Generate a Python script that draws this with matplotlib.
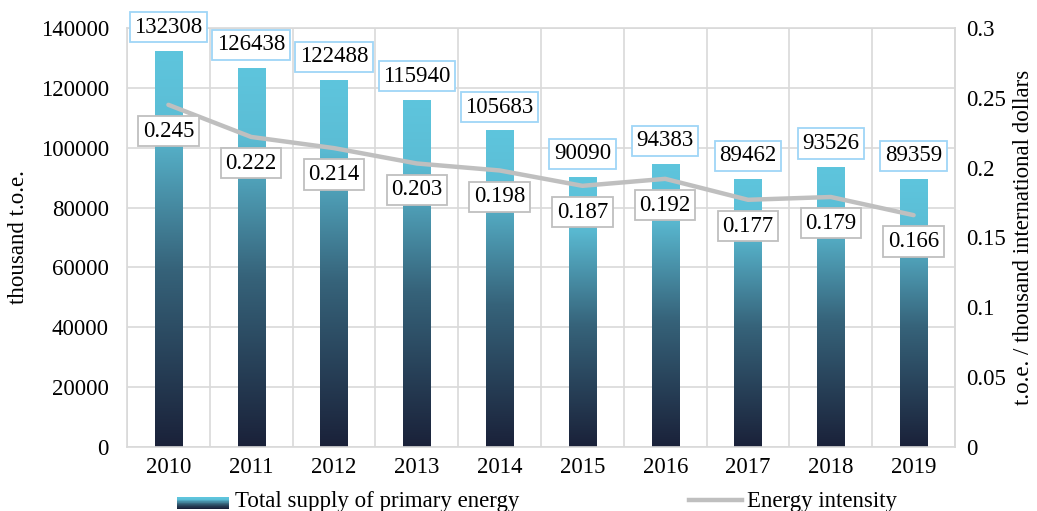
import numpy as np
import matplotlib
matplotlib.use("Agg")
import matplotlib.pyplot as plt
from matplotlib.colors import LinearSegmentedColormap
from matplotlib.patches import Rectangle
from matplotlib.lines import Line2D
from matplotlib.legend_handler import HandlerBase

plt.rcParams['font.family'] = ['Liberation Serif', 'DejaVu Serif']

# --- данные ---
YEARS = ['2010', '2011', '2012', '2013', '2014', '2015', '2016', '2017', '2018', '2019']
SUPPLY = [132308, 126438, 122488, 115940, 105683, 90090, 94383, 89462, 93526, 89359]
INTENSITY = [0.245, 0.222, 0.214, 0.203, 0.198, 0.187, 0.192, 0.177, 0.179, 0.166]

# градиент столбца: снизу тёмно-синий, сверху голубой
CMAP = LinearSegmentedColormap.from_list(
    "bar_grad", [(0.0, "#1a2139"), (0.45, "#36637a"), (0.82, "#5bbdd5"), (1.0, "#5ec5dd")])
LINE_COLOR = "#bfbfbf"
GRID = "#d9d9d9"
FS = 16.5


class GradientHandler(HandlerBase):
    # рисуем значок легенды полосками, чтобы получился градиент
    def create_artists(self, legend, orig, xd, yd, width, height, fontsize, trans):
        n = 20
        arts = []
        h = height * 0.9
        y0 = yd + (height - h) / 2
        for i in range(n):
            r = Rectangle((xd, y0 + h * i / n), width, h / n + 0.3,
                          facecolor=CMAP(i / (n - 1)), edgecolor='none', transform=trans)
            arts.append(r)
        return arts


fig = plt.figure(figsize=(10.37, 5.11), dpi=100)
ax1 = fig.add_axes([127 / 1037, 1 - 447 / 511, (955 - 127) / 1037, (447 - 28) / 511])
ax2 = ax1.twinx()

x = np.arange(len(YEARS))
w = 0.33
grad = np.linspace(0, 1, 256).reshape(-1, 1)
for xi, v in zip(x, SUPPLY):
    ax1.imshow(grad, cmap=CMAP, origin='lower', aspect='auto',
               extent=[xi - w / 2, xi + w / 2, 0, v], zorder=2)

ax1.set_xlim(-0.5, len(YEARS) - 0.5)
ax1.set_ylim(0, 140000)
ax1.set_yticks(np.arange(0, 140001, 20000))
ax1.set_xticks(x)
ax1.set_xticklabels(YEARS)
ax1.set_xticks(np.arange(-0.5, len(YEARS), 1), minor=True)
ax1.grid(True, axis='y', color=GRID, lw=1.2, zorder=0)
ax1.grid(True, axis='x', which='minor', color=GRID, lw=1.2, zorder=0)
ax1.set_axisbelow(True)
ax1.tick_params(axis='y', which='both', length=0, labelsize=FS, pad=13)
ax1.tick_params(axis='x', which='both', length=0, labelsize=FS, pad=7)
ax1.set_ylabel("thousand t.o.e.", fontsize=FS, va='center')
ax1.yaxis.set_label_coords((19 - 127) / 828, 0.5)

ax2.plot(x, INTENSITY, color=LINE_COLOR, lw=3.2, solid_capstyle='round', zorder=3)
# подписи столбцов рисуем на ax2, чтобы они были поверх линии и рамки
for xi, v in zip(x, SUPPLY):
    ax2.annotate(str(v), (xi, v), xycoords=ax1.transData, xytext=(0, 17),
                 textcoords='offset points', ha='center', va='center', fontsize=FS, zorder=5,
                 annotation_clip=False,
                 bbox=dict(boxstyle='square,pad=0.2', fc='white', ec='#9fd6f7', lw=1.3))
for xi, v in zip(x, INTENSITY):
    ax2.annotate(f"{v:.3f}", (xi, v), xytext=(0, -19), textcoords='offset points',
                 ha='center', va='center', fontsize=FS, zorder=5,
                 bbox=dict(boxstyle='square,pad=0.2', fc='white', ec='#bfbfbf', lw=1.3))
ax2.set_ylim(0, 0.3)
ax2.set_yticks([0, 0.05, 0.1, 0.15, 0.2, 0.25, 0.3])
ax2.set_yticklabels(['0', '0.05', '0.1', '0.15', '0.2', '0.25', '0.3'])
ax2.tick_params(axis='y', length=0, labelsize=FS, pad=8)
ax2.set_ylabel("t.o.e. / thousand international dollars", fontsize=FS, va='center')
ax2.yaxis.set_label_coords((1024 - 127) / 828, 0.5)

for s in ax1.spines.values():
    s.set_color(GRID)
    s.set_linewidth(1.2)
for name, s in ax2.spines.items():
    s.set_visible(name == 'right')
    s.set_color(GRID)
    s.set_linewidth(1.2)

h1 = Rectangle((0, 0), 1, 1)
h2 = Line2D([], [], color=LINE_COLOR, lw=3.2)
fig.legend([h1, h2], ["Total supply of primary energy", "Energy intensity"],
           handler_map={Rectangle: GradientHandler()},
           loc='center', bbox_to_anchor=(537 / 1037, 0.018), ncol=2, frameon=False,
           fontsize=FS, handlelength=2.3, handleheight=0.45, handletextpad=0.25,
           columnspacing=7.4, borderpad=0)

fig.savefig("out.png", dpi=100)
